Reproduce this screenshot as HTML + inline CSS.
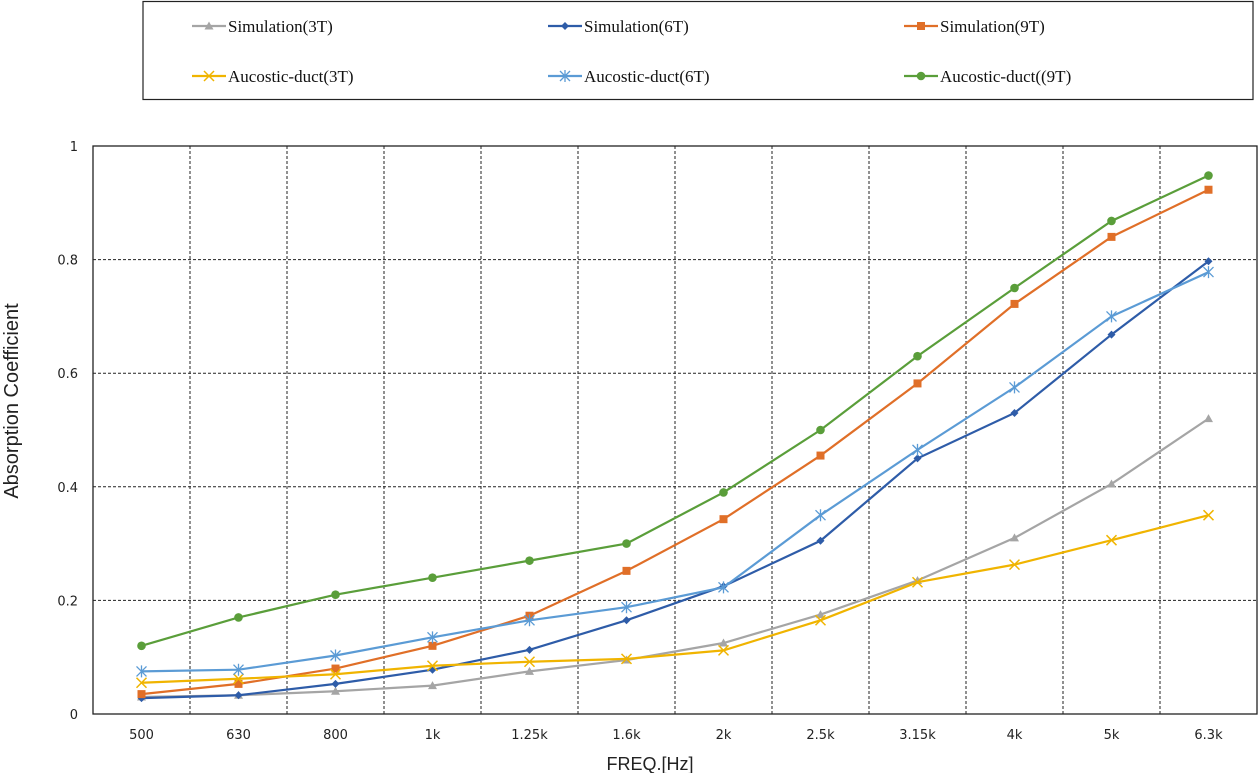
<!DOCTYPE html>
<html><head><meta charset="utf-8"><style>
body{margin:0;background:#fff;}
svg{display:block;}
</style></head><body>
<svg id="c" width="1260" height="773" xmlns="http://www.w3.org/2000/svg">
<rect x="0" y="0" width="1260" height="773" fill="#fff"/>
<rect x="143" y="1.5" width="1110" height="98" fill="#fff" stroke="#222" stroke-width="1.2"/>
<g id="g"></g>
</svg>
<script>
const g=document.getElementById('g');
const NS='http://www.w3.org/2000/svg';
function el(t,a,txt){const e=document.createElementNS(NS,t);for(const k in a)e.setAttribute(k,a[k]);if(txt!==undefined)e.textContent=txt;g.appendChild(e);return e;}
const L=93,R=1257,T=146,B=714,step=97;
const X=i=>L+step/2+i*step, Y=v=>B-(B-T)*v;
for(let k=1;k<12;k++){const x=L+k*step;el('line',{x1:x,y1:T,x2:x,y2:B,stroke:'#222','stroke-dasharray':'3,2','stroke-width':1});}
for(let k=1;k<=4;k++){const y=Y(k*0.2);el('line',{x1:L,y1:y,x2:R,y2:y,stroke:'#222','stroke-dasharray':'3,2','stroke-width':1});}
el('rect',{x:L,y:T,width:R-L,height:B-T,fill:'none',stroke:'#222','stroke-width':1.3});
const yl=['0','0.2','0.4','0.6','0.8','1'];
yl.forEach((t,k)=>el('text',{x:78,y:Y(k*0.2)+5,'text-anchor':'end','font-family':'DejaVu Sans, sans-serif','font-size':13,fill:'#222'},t));
const cats=['500','630','800','1k','1.25k','1.6k','2k','2.5k','3.15k','4k','5k','6.3k'];
cats.forEach((t,i)=>el('text',{x:X(i),y:739,'text-anchor':'middle','font-family':'DejaVu Sans, sans-serif','font-size':13,fill:'#222'},t));
el('text',{x:650,y:770,'text-anchor':'middle','font-family':'Liberation Sans, sans-serif','font-size':18,fill:'#222'},'FREQ.[Hz]');
el('text',{x:0,y:0,transform:'translate(18,401) rotate(-90)','text-anchor':'middle','font-family':'Liberation Sans, sans-serif','font-size':20,fill:'#222'},'Absorption Coefficient');
const S=[
{n:'Simulation(3T)',c:'#a5a5a5',m:'tri',d:[0.03,0.033,0.04,0.05,0.075,0.095,0.125,0.175,0.235,0.31,0.405,0.52],lx:228,ly:26},
{n:'Simulation(6T)',c:'#2e5ca8',m:'dia',d:[0.028,0.033,0.053,0.078,0.113,0.165,0.225,0.305,0.45,0.53,0.668,0.797],lx:584,ly:26},
{n:'Simulation(9T)',c:'#e06f28',m:'sq',d:[0.035,0.053,0.08,0.12,0.173,0.252,0.343,0.455,0.582,0.722,0.84,0.923],lx:940,ly:26},
{n:'Aucostic-duct(3T)',c:'#f0b400',m:'x',d:[0.055,0.062,0.07,0.085,0.092,0.097,0.112,0.165,0.232,0.263,0.306,0.35],lx:228,ly:76},
{n:'Aucostic-duct(6T)',c:'#5b9bd5',m:'ast',d:[0.075,0.078,0.103,0.135,0.165,0.188,0.223,0.35,0.465,0.575,0.7,0.778],lx:584,ly:76},
{n:'Aucostic-duct((9T)',c:'#5a9e3a',m:'dot',d:[0.12,0.17,0.21,0.24,0.27,0.3,0.39,0.5,0.63,0.75,0.868,0.948],lx:940,ly:76}];
function mk(m,x,y,c){
 if(m==='tri')el('path',{d:`M${x},${y-4.5}L${x+4.5},${y+3.5}L${x-4.5},${y+3.5}Z`,fill:c});
 else if(m==='dia')el('path',{d:`M${x},${y-4}L${x+4},${y}L${x},${y+4}L${x-4},${y}Z`,fill:c});
 else if(m==='sq')el('rect',{x:x-4,y:y-4,width:8,height:8,fill:c});
 else if(m==='dot')el('circle',{cx:x,cy:y,r:4.3,fill:c});
 else if(m==='x')el('path',{d:`M${x-5},${y-5}L${x+5},${y+5}M${x-5},${y+5}L${x+5},${y-5}`,stroke:c,'stroke-width':1.5});
 else if(m==='ast')el('path',{d:`M${x-5},${y-5}L${x+5},${y+5}M${x-5},${y+5}L${x+5},${y-5}M${x},${y-6}L${x},${y+6}`,stroke:c,'stroke-width':1.3});
}
S.forEach(s=>{
 el('polyline',{points:s.d.map((v,i)=>X(i)+','+Y(v)).join(' '),fill:'none',stroke:s.c,'stroke-width':2.2});
 s.d.forEach((v,i)=>mk(s.m,X(i),Y(v),s.c));
 el('line',{x1:s.lx-36,y1:s.ly,x2:s.lx-2,y2:s.ly,stroke:s.c,'stroke-width':2.2});
 mk(s.m,s.lx-19,s.ly,s.c);
 el('text',{x:s.lx,y:s.ly+6,'font-family':'Liberation Serif, serif','font-size':17,fill:'#111'},s.n);
});
</script>
</body></html>
